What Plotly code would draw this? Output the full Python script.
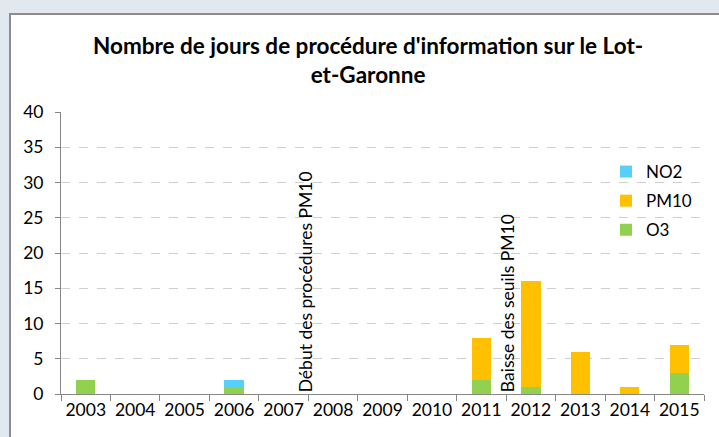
import plotly.graph_objects as go

years = ["2003", "2004", "2005", "2006", "2007", "2008", "2009", "2010",
         "2011", "2012", "2013", "2014", "2015"]
o3 = [2, 0, 0, 1, 0, 0, 0, 0, 2, 1, 0, 0, 3]
pm10 = [0, 0, 0, 0, 0, 0, 0, 0, 6, 15, 6, 1, 4]
no2 = [0, 0, 0, 1, 0, 0, 0, 0, 0, 0, 0, 0, 0]
y_ticks = [0, 5, 10, 15, 20, 25, 30, 35, 40]

title_text = "Nombre de jours de procédure d'information sur le Lot-<br>et-Garonne"
notes = [(4.45, "Début des procédures PM10"), (8.52, "Baisse des seuils PM10")]

FONT = "Lato"

fig = go.Figure()
fig.add_trace(go.Bar(x=years, y=o3, name="O3", legendgroup="o3", legendrank=3,
                     marker=dict(color="#92D050", line=dict(width=0)), width=0.39))
fig.add_trace(go.Bar(x=years, y=pm10, name="PM10", legendgroup="pm10", legendrank=2,
                     marker=dict(color="#FFC000", line=dict(width=0)), width=0.39))
fig.add_trace(go.Bar(x=years, y=no2, name="NO2", legendgroup="no2", legendrank=1,
                     marker=dict(color="#57D0F9", line=dict(width=0)), width=0.39))

W, H = 719, 437
L, T = 61, 112
R = W - 704
B = H - 394
pw = W - L - R
ph = H - T - B

def px2x(px):
    return (px - L) / pw

def px2y(py):
    return (H - B - py) / ph

fig.add_shape(type="rect", xref="paper", yref="paper",
              x0=px2x(10), x1=px2x(730), y0=px2y(450), y1=px2y(14),
              fillcolor="white", line=dict(color="#8c8c8c", width=2), layer="below")

fig.add_annotation(x=px2x(368), y=px2y(60), xref="paper", yref="paper",
                   text="<b>" + title_text + "</b>", showarrow=False,
                   font=dict(family=FONT, size=22.5, color="#000000"),
                   align="center", xanchor="center", yanchor="middle")

for xpos, txt in notes:
    fig.add_annotation(x=xpos, y=0, xref="x", yref="y", text=txt, textangle=-90,
                       showarrow=False, xanchor="center", yanchor="bottom",
                       font=dict(family=FONT, size=17.5, color="#000000"))

fig.update_layout(
    width=W, height=H,
    margin=dict(l=L, r=R, t=T, b=B, autoexpand=False),
    paper_bgcolor="#e1e8f0",
    plot_bgcolor="rgba(0,0,0,0)",
    barmode="stack",
    showlegend=True,
    legend=dict(x=px2x(606), y=px2y(154), xanchor="left", yanchor="top",
                traceorder="grouped", bgcolor="rgba(0,0,0,0)",
                font=dict(family=FONT, size=17, color="#000000"),
                itemwidth=30, tracegroupgap=4),
    font=dict(family=FONT, size=17, color="#000000"),
    xaxis=dict(type="category", tickson="boundaries", ticks="outside", ticklen=6,
               tickcolor="#868686", showline=True, linecolor="#868686", linewidth=1,
               showgrid=False, tickangle=0, automargin=False,
               tickfont=dict(family=FONT, size=17.5, color="#000000"),
               range=[-0.5, 12.5]),
    yaxis=dict(range=[0, 40], tickvals=y_ticks, ticks="outside", ticklen=5,
               tickcolor="#868686", showline=True, linecolor="#868686", linewidth=1,
               showgrid=True, gridcolor="#cfcfcf", griddash="dash", gridwidth=1,
               zeroline=False, automargin=False, ticklabelstandoff=8,
               tickfont=dict(family=FONT, size=17.5, color="#000000")),
)

fig.write_html("out.html", config={"displayModeBar": False},
               post_script="document.body.style.margin='0';document.body.style.overflow='hidden';")
